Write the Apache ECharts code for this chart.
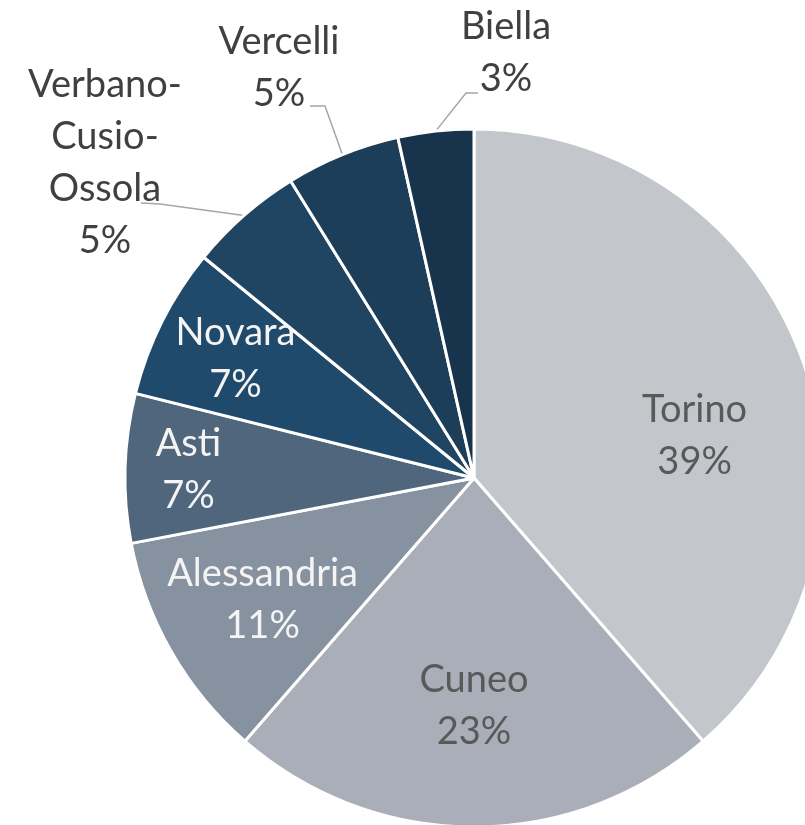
<!DOCTYPE html>
<html>
<head>
<meta charset="utf-8">
<script src="https://cdn.jsdelivr.net/npm/echarts@6/dist/echarts.min.js"></script>
<style>
  html, body { margin: 0; padding: 0; background: #fff; }
  #chart { width: 805px; height: 825px; }
</style>
</head>
<body>
<div id="chart"></div>
<script>
// data
const provinces = ['Torino', 'Cuneo', 'Alessandria', 'Asti', 'Novara', 'Verbano-Cusio-Ossola', 'Vercelli', 'Biella']
const shares = [38.6, 22.8, 10.6, 6.9, 7.0, 5.3, 5.3, 3.5]

// styles
const sliceColors = ['#c3c7cc', '#a9aeb8', '#8792a0', '#50667d', '#204a6b', '#1f4563', '#1c3e59', '#17344c']
const darkText = ['Torino', 'Cuneo']
const center = [474, 478]
const R = 349
const FONT = 'Lato, "Open Sans", sans-serif'

// inside labels: depth as a fraction of the radius (+ small nudge where Excel moved it)
const insideDepth = { Torino: 0.645, Cuneo: 0.645, Alessandria: 0.69, Asti: 0.81, Novara: 0.756 }
const insideNudge = { Torino: [7, 38] }
// outside labels with leader lines
const outer = {
  'Verbano-Cusio-Ossola': { x: 105, y: 163, line: [[160, 204], [141, 203]] },
  'Vercelli': { x: 279, y: 68, line: [[325, 106], [310, 106]] },
  'Biella': { x: 506, y: 53, line: [[466, 93], [478, 93]] },
}

const fmt = (p) => p.name.replace(/-/g, '-\n') + '\n' + p.percent + '%'

const labelBase = {
  formatter: fmt,
  fontFamily: FONT,
  fontSize: 38,
  lineHeight: 52,
  textBorderWidth: 0,
}

// transparent pie only used to place inside labels at a given depth
function labelRing(k) {
  const names = provinces.filter((n) => insideDepth[n] === k)
  return {
    type: 'pie',
    center,
    radius: 2 * k * R,
    startAngle: 90,
    clockwise: true,
    percentPrecision: 0,
    silent: true,
    avoidLabelOverlap: false,
    itemStyle: { color: 'transparent', borderWidth: 0 },
    emphasis: { disabled: true },
    label: { ...labelBase, position: 'inside' },
    labelLine: { show: false },
    labelLayout: (p) => {
      const d = insideNudge[provinces[p.dataIndex]]
      if (d) return { dx: d[0], dy: d[1] }
    },
    data: provinces.map((n, i) => ({
      name: n,
      value: shares[i],
      label: { show: names.includes(n), color: darkText.includes(n) ? '#595959' : '#f4f4f4' },
    })),
  }
}

const depths = [...new Set(Object.values(insideDepth))]

const chart = echarts.init(document.getElementById('chart'))
chart.setOption({
  animation: false,
  series: [
    {
      type: 'pie',
      center,
      radius: R,
      startAngle: 90,
      clockwise: true,
      percentPrecision: 0,
      silent: true,
      avoidLabelOverlap: false,
      itemStyle: { borderColor: '#fff', borderWidth: 3 },
      label: { ...labelBase, position: 'outside', color: '#404040', align: 'center' },
      labelLine: { length: 20, length2: 10, lineStyle: { color: '#a6a6a6', width: 1.5 } },
      labelLayout: (p) => {
        const o = outer[provinces[p.dataIndex]]
        if (!o || !p.labelLinePoints) return
        return {
          x: o.x,
          y: o.y,
          align: 'center',
          verticalAlign: 'middle',
          labelLinePoints: [p.labelLinePoints[0], o.line[0], o.line[1]],
        }
      },
      data: provinces.map((n, i) => ({
        name: n,
        value: shares[i],
        itemStyle: { color: sliceColors[i] },
        label: { show: !!outer[n] },
        labelLine: { show: !!outer[n] },
      })),
    },
    ...depths.map(labelRing),
  ],
})
</script>
</body>
</html>
